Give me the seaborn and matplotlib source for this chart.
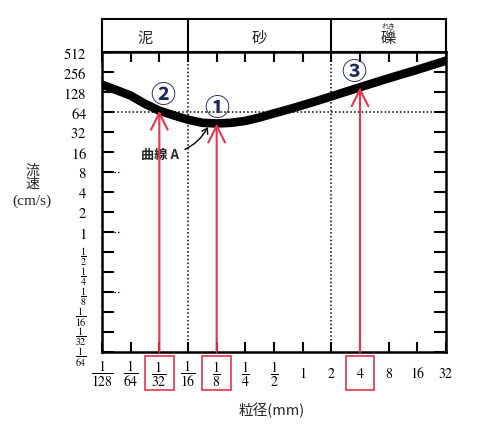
""" grain size vs flow speed (Hjulstrom-like curve) """

import matplotlib.pyplot as plt
import numpy as np
import pandas as pd
import seaborn as sns
from matplotlib.patches import Rectangle
from matplotlib.ticker import NullLocator
from matplotlib.transforms import blended_transform_factory

# curve A : grain size (mm) -> flow speed (cm/s)
curve_sizes = [0.0078125, 0.01105, 0.015625, 0.0221, 0.03125, 0.0442, 0.0625,
               0.0884, 0.125, 0.1768, 0.25, 0.3536, 0.5, 0.7071, 1, 1.4142,
               2, 4, 8, 16, 32]
curve_speeds = [165, 137, 113, 85, 67, 57, 49, 44, 43, 44, 47, 53, 61, 70,
                81, 94, 110, 151, 206, 277, 379]

x_ticks = [1/128, 1/64, 1/32, 1/16, 1/8, 1/4, 1/2, 1, 2, 4, 8, 16, 32]
x_tick_labels = [r"$\dfrac{1}{128}$", r"$\dfrac{1}{64}$", r"$\dfrac{1}{32}$",
                 r"$\dfrac{1}{16}$", r"$\dfrac{1}{8}$", r"$\dfrac{1}{4}$",
                 r"$\dfrac{1}{2}$", "$1$", "$2$", "$4$", "$8$", "$16$", "$32$"]

y_ticks = [1/64, 1/32, 1/16, 1/8, 1/4, 1/2, 1, 2, 4, 8, 16, 32, 64, 128, 256, 512]
y_tick_labels = [r"$\dfrac{1}{64}$", r"$\dfrac{1}{32}$", r"$\dfrac{1}{16}$",
                 r"$\dfrac{1}{8}$", r"$\dfrac{1}{4}$", r"$\dfrac{1}{2}$",
                 "$1$", "$2$", "$4$", "$8$", "$16$", "$32$", "$64$",
                 "$128$", "$256$", "$512$"]

# 泥 / 砂 / 礫 classes and their boundaries
classes = ["泥", "砂", "礫"]
class_bounds = [1/128, 1/16, 2, 32]

ref_speed = 64
stub_speeds = [8, 1, 1/8]

marked_sizes = [1/32, 1/8, 4]
marked_labels = ["②", "①", "③"]

# styles
RED = "#e8334f"
NAVY = "#1c2a5c"
CJK = ["Noto Sans CJK JP", "DejaVu Sans"]
label_offsets = {"②": (2.5, 11), "①": (0, 11.5), "③": (-4.5, 11)}

sns.set_theme(style="ticks")
plt.rcParams["font.family"] = ["Liberation Serif", "Noto Sans CJK JP", "DejaVu Sans"]
plt.rcParams["mathtext.fontset"] = "stix"

fig = plt.figure(figsize=(4.8, 4.27), dpi=100)
ax = fig.add_axes([102/480, 74/427, 344/480, 300/427])
hd = fig.add_axes([102/480, 374/427, 344/480, 33/427])

ax.set_xscale("log", base=2)
ax.set_yscale("log", base=2)
ax.set_xlim(x_ticks[0], x_ticks[-1])
ax.set_ylim(y_ticks[0], y_ticks[-1])

df = pd.DataFrame({"size": curve_sizes, "speed": curve_speeds})
sns.lineplot(data=df, x="size", y="speed", ax=ax, color="black",
             linewidth=6.2, estimator=None, solid_capstyle="butt",
             solid_joinstyle="round", zorder=4)
ax.set_xlabel("")
ax.set_ylabel("")

ax.set_xticks(x_ticks)
ax.set_xticklabels(x_tick_labels, va="center")
ax.set_yticks(y_ticks)
ax.set_yticklabels(y_tick_labels)
ax.xaxis.set_minor_locator(NullLocator())
ax.yaxis.set_minor_locator(NullLocator())
ax.tick_params(axis="x", direction="in", length=7, width=1.5, top=True,
               bottom=True, pad=15, labelsize=10, colors="black")
ax.tick_params(axis="y", direction="in", length=8.6, width=1.5, left=True,
               right=True, pad=11, labelsize=10.5, colors="black")
for lbl in ax.get_yticklabels():
    if "frac" in lbl.get_text():
        lbl.set_fontsize(7.2)
for sp in ax.spines.values():
    sp.set_linewidth(1.8)
    sp.set_color("black")

# dotted guide lines
for b in class_bounds[1:-1]:
    ax.axvline(b, ls=(0, (1, 1.5)), color="black", lw=1.1, zorder=1)
ax.axhline(ref_speed, ls=(0, (1, 1.5)), color="black", lw=1.1, zorder=1)
for s in stub_speeds:
    ax.axhline(s, xmin=0.036, xmax=0.055, ls=(0, (1, 1.5)), color="black", lw=1.0)

# header with class names
hd.set_xscale("log", base=2)
hd.set_xlim(class_bounds[0], class_bounds[-1])
hd.set_ylim(0, 1)
hd.set_xticks([])
hd.set_yticks([])
hd.xaxis.set_minor_locator(NullLocator())
for sp in hd.spines.values():
    sp.set_linewidth(1.5)
    sp.set_color("black")
for b in class_bounds[1:-1]:
    hd.axvline(b, color="black", lw=1.5)
for name, a, b in zip(classes, class_bounds[:-1], class_bounds[1:]):
    hd.text(np.sqrt(a * b), 0.45, name, ha="center", va="center",
            fontsize=11, family=CJK)
hd.text(np.sqrt(class_bounds[2] * class_bounds[3]), 0.82, "れき",
        ha="center", va="center", fontsize=5, family=CJK)

# red arrows, circled numbers, boxed tick labels
trans = blended_transform_factory(ax.transData, ax.transAxes)
for s, lab in zip(marked_sizes, marked_labels):
    v = curve_speeds[curve_sizes.index(s)]
    ax.annotate("", xy=(s, v), xytext=(s, y_ticks[0]),
                arrowprops=dict(arrowstyle="->,head_length=1.0,head_width=0.5",
                                color=RED, lw=1.5, shrinkA=0, shrinkB=0),
                zorder=5)
    ax.annotate(lab, xy=(s, v), xytext=label_offsets[lab],
                textcoords="offset points", ha="center", va="center",
                fontsize=18, fontweight="bold", color=NAVY, family=CJK, zorder=6)
    ax.add_patch(Rectangle((s / np.sqrt(2), -0.127), s * np.sqrt(2) - s / np.sqrt(2),
                           0.113, transform=trans, fill=False, ec=RED, lw=1.2,
                           clip_on=False))

# curve A label
ax.annotate("曲線 A", xy=(0.1015, 38), xytext=(0.0318, 14.9),
            ha="center", va="center", fontsize=9.5, fontweight="bold", family=CJK,
            arrowprops=dict(arrowstyle="->,head_length=0.4,head_width=0.25",
                            connectionstyle="arc3,rad=0.3", color="black",
                            lw=1.0, shrinkB=0))

# axis titles
fig.text(32/480, 1 - 170.5/427, "流", ha="center", va="center", fontsize=10, family=CJK)
fig.text(32/480, 1 - 184/427, "速", ha="center", va="center", fontsize=10, family=CJK)
fig.text(32/480, 1 - 201/427, "(cm/s)", ha="center", va="center", fontsize=11)
fig.text(272/480, 1 - 410/427, "粒径(mm)", ha="center", va="center",
         fontsize=10.5, family=CJK)

fig.savefig("out.png", dpi=100)
